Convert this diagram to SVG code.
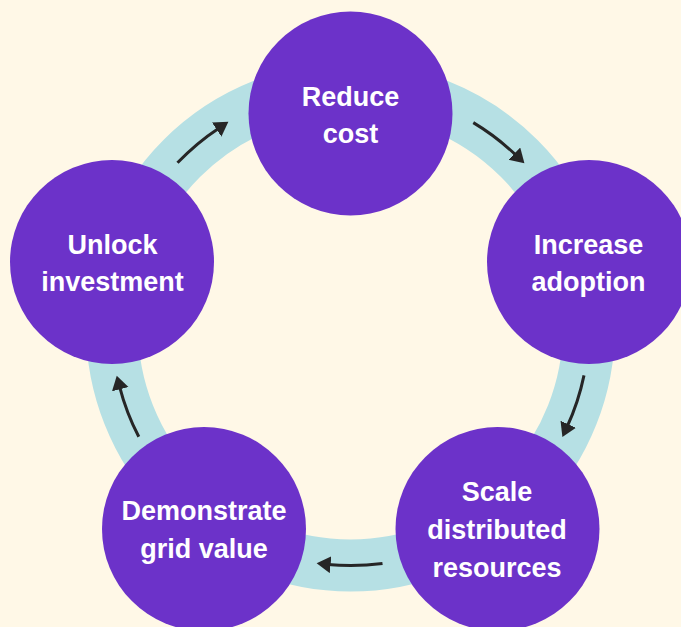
<svg xmlns="http://www.w3.org/2000/svg" width="681" height="627" viewBox="0 0 681 627">
  <style>
    .node circle { fill: #6c32c9; }
    .node text { fill: #ffffff; font-family: "Liberation Sans", Arial, sans-serif; font-weight: bold; font-size: 27px; text-anchor: middle; }
    .conn path { fill: none; stroke: #262626; stroke-width: 3; marker-end: url(#ah); }
  </style>
  <defs>
    <marker id="ah" markerUnits="userSpaceOnUse" markerWidth="18" markerHeight="18" refX="3" refY="8.5" orient="auto">
      <path d="M0,0 L14,8.5 L0,17 z" fill="#262626"/>
    </marker>
  </defs>
  <rect width="681" height="627" fill="#fff8e7"/>
  <circle id="ring" cx="350.5" cy="327" r="238.5" fill="none" stroke="#b6e0e4" stroke-width="52"/>
  <g id="connectors" class="conn">
    <path d="M177.5,162.8 A238.5,238.5 0 0 1 219.2,127.9"/>
    <path d="M473.3,122.6 A238.5,238.5 0 0 1 516.5,155.7"/>
    <path d="M584.0,375.4 A238.5,238.5 0 0 1 567.0,427.0"/>
    <path d="M382.5,563.4 A238.5,238.5 0 0 1 327.6,564.4"/>
    <path d="M138.8,436.8 A238.5,238.5 0 0 1 119.5,386.3"/>
  </g>
  <g id="reduce-cost" class="node">
    <circle cx="350.5" cy="113.5" r="102"/>
    <text x="350.5" y="106">Reduce</text>
    <text x="350.5" y="143">cost</text>
  </g>
  <g id="increase-adoption" class="node">
    <circle cx="589" cy="262" r="102"/>
    <text x="588.5" y="254">Increase</text>
    <text x="588.5" y="291">adoption</text>
  </g>
  <g id="scale-distributed-resources" class="node">
    <circle cx="497.5" cy="529" r="102"/>
    <text x="497" y="501">Scale</text>
    <text x="497" y="539">distributed</text>
    <text x="497" y="577">resources</text>
  </g>
  <g id="demonstrate-grid-value" class="node">
    <circle cx="204" cy="529" r="102"/>
    <text x="204" y="520">Demonstrate</text>
    <text x="204" y="558">grid value</text>
  </g>
  <g id="unlock-investment" class="node">
    <circle cx="112" cy="262" r="102"/>
    <text x="112.5" y="254">Unlock</text>
    <text x="112.5" y="291">investment</text>
  </g>
</svg>
